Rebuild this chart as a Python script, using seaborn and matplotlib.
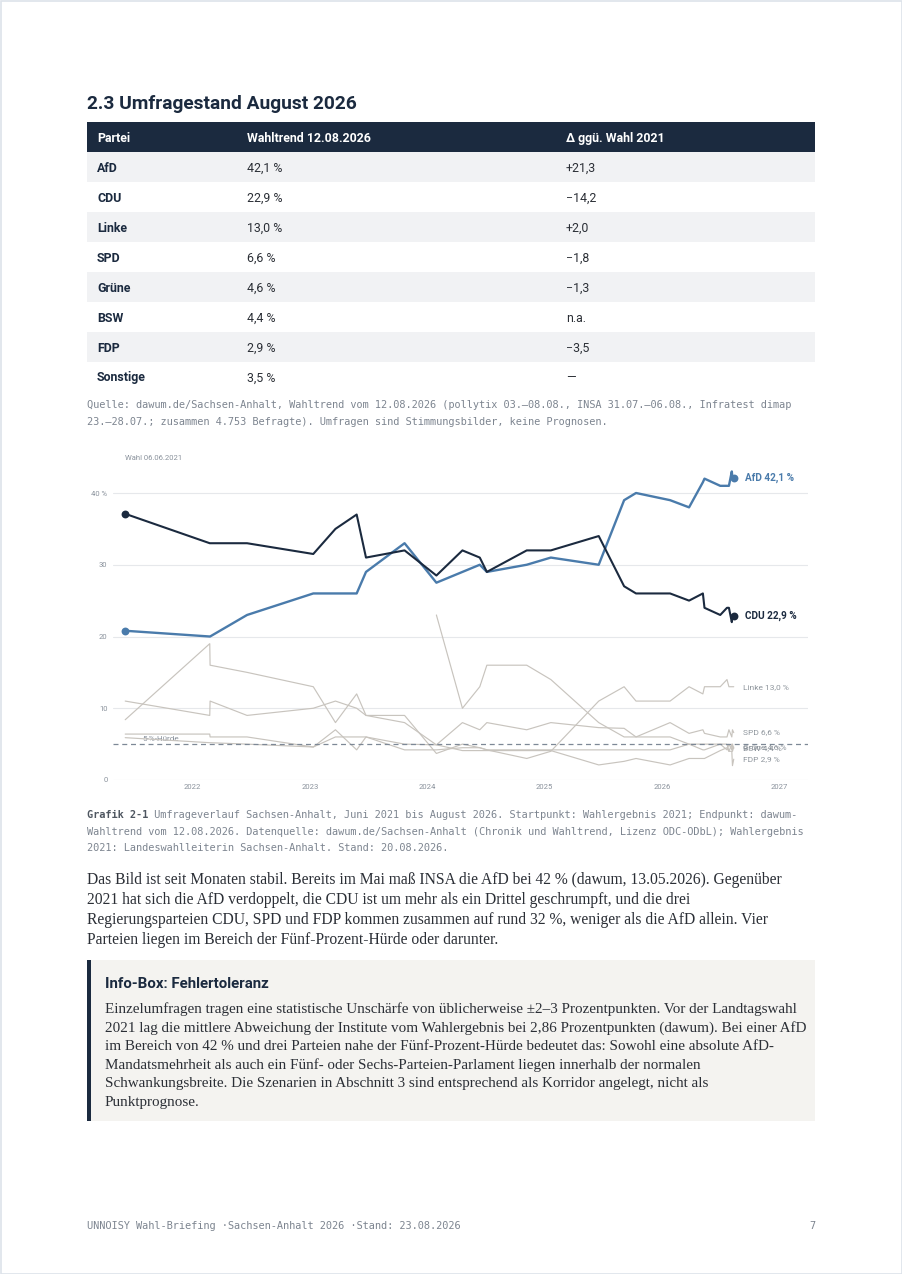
import matplotlib
matplotlib.use("Agg")
import matplotlib.pyplot as plt
import matplotlib.patches as mpatches
import numpy as np
import pandas as pd
import seaborn as sns

# ---------------- data ----------------
table_parties = ["AfD", "CDU", "Linke", "SPD", "Grüne", "BSW", "FDP", "Sonstige"]
table_trend = [42.1, 22.9, 13.0, 6.6, 4.6, 4.4, 2.9, 3.5]
table_delta = ["+21,3", "\u221214,2", "+2,0", "\u22121,8", "\u22121,3", "n.a.", "\u22123,5", "\u2014"]
table_header = ["Partei", "Wahltrend 12.08.2026", "\u0394 ggü. Wahl 2021"]

poll_dates = ["2021-06-06", "2022-02-24", "2022-02-25", "2022-06-20", "2023-01-12",
              "2023-03-22", "2023-05-27", "2023-06-25", "2023-10-23", "2024-01-30",
              "2024-04-20", "2024-06-13", "2024-07-05", "2024-11-06", "2025-01-20",
              "2025-06-18", "2025-09-05", "2025-10-12", "2026-01-26", "2026-03-26",
              "2026-05-08", "2026-05-13", "2026-07-01", "2026-07-22", "2026-07-28",
              "2026-08-06", "2026-08-08", "2026-08-12"]
afd = [20.8, 20, 20, 23, 26, 26, 26, 29, 33, 27.5, 29, 30, 29, 30, 31, 30, 39, 40,
       39, 38, 41.5, 42, 41, 41, 41, 43, 42, 42.1]
cdu = [37.1, 33, 33, 33, 31.5, 35, 37, 31, 32, 28.5, 32, 31, 29, 32, 32, 34, 27, 26,
       26, 25, 26, 24, 23, 24, 24, 22, 23, 22.9]
linke = [11.0, 9, 11, 9, 10, 11, 10, 9, 9, 3.7, 5, 4.5, 4.2, 3, 4, 11, 13, 11,
         11, 13, 12, 13, 13, 14, 13, 13, 13, 13.0]
spd = [8.4, 19, 16, 15, 13, 8, 12, 9, 8, 4.9, 8, 7, 8, 7, 8, 7.3, 7.2, 6,
       8, 6.5, 7, 6.5, 6, 6, 7, 6, 7, 6.6]
gruene = [5.9, 5.2, 5.2, 5.0, 4.6, 6.0, 6.0, 6.0, 4.2, 4.2, 4.5, 4.5, 4.2, 4.2, 4.2,
          4.2, 4.2, 4.2, 4.2, 5.0, 5.0, 5.0, 5.0, 5.0, 4.0, 5.0, 4.0, 4.6]
bsw = [np.nan] * 9 + [23, 10, 13, 16, 16, 14, 8, 6, 6, 6, 5, 4.2, 4.2, 5, 4.2, 5,
                      4.2, 5, 4.4]
fdp = [6.4, 6.4, 6.0, 6.0, 4.6, 7.0, 4.2, 6.0, 5.0, 4.9, 4.1, 4.1, 4.1, 4.1, 4.1,
       2.1, 2.6, 3.0, 2.1, 3.0, 3.0, 3.0, 4.1, 4.5, 4.0, 4.0, 2.0, 2.9]
year_ticks = [2022, 2023, 2024, 2025, 2026, 2027]
y_ticks = [0, 10, 20, 30, 40]
threshold = 5

series = {"AfD": afd, "CDU": cdu, "Linke": linke, "SPD": spd,
          "Grüne": gruene, "BSW": bsw, "FDP": fdp}

# ---------------- styling ----------------
NAVY = "#1b2a3f"
BLUE = "#4a7bab"
LGRAY = "#c8c4be"
TXT = "#2b2f36"
MUTED = "#7d8590"
SANS = ["Roboto", "DejaVu Sans"]
SERIF = ["Liberation Serif", "DejaVu Serif"]
MONO = ["DejaVu Sans Mono"]

sns.set_style("white")
plt.rcParams["font.family"] = ["Roboto", "DejaVu Sans"]

W, H = 902, 1274
fig = plt.figure(figsize=(W / 100, H / 100), dpi=100)
fig.patch.set_facecolor("white")
renderer = fig.canvas.get_renderer()

page = fig.add_axes([0, 0, 1, 1], zorder=0)
page.set_xlim(0, W)
page.set_ylim(H, 0)
page.axis("off")


def width_px(s, size, family, weight="normal"):
    t = page.text(0, 0, s, fontsize=size, family=family, weight=weight)
    w = t.get_window_extent(renderer).width
    t.remove()
    return w


def fit(s, target, family, weight="normal"):
    return 10 * target / width_px(s, 10, family, weight)


def put(x, y, s, size, family, weight="normal", color=TXT, ha="left"):
    page.text(x, y, s, fontsize=size, family=family, weight=weight, color=color,
              ha=ha, va="center_baseline")

# page border
page.add_patch(mpatches.Rectangle((0.5, 0.5), W - 1, H - 1, fill=False,
                                  edgecolor="#dde3ea", lw=1.2))

# title
title = "2.3 Umfragestand August 2026"
put(87, 102, title, fit(title, 271, SANS, "bold"), SANS, "bold", NAVY)

# table
col_x = [97, 247, 566]
hsize = fit(table_header[1], 124, SANS, "bold")
page.add_patch(mpatches.Rectangle((87, 122), 728, 30, color=NAVY, lw=0))
for cx, h in zip(col_x, table_header):
    put(cx, 137, h, hsize, SANS, "bold", "white")
for i, (p, v, d) in enumerate(zip(table_parties, table_trend, table_delta)):
    top = 152 + 30 * i
    if i % 2 == 0:
        page.add_patch(mpatches.Rectangle((87, top), 728, 30, color="#f1f2f4", lw=0))
    yb = top + 14.5
    put(col_x[0], yb, p, hsize, SANS, "bold", NAVY)
    put(col_x[1], yb, f"{v:.1f}".replace(".", ",") + " %", hsize, SANS, "normal", TXT)
    put(col_x[2], yb, d, hsize, SANS, "normal", TXT)

# source lines (mono)
src = ["Quelle: dawum.de/Sachsen-Anhalt, Wahltrend vom 12.08.2026 (pollytix 03.\u201308.08., INSA 31.07.\u201306.08., Infratest dimap",
       "23.\u201328.07.; zusammen 4.753 Befragte). Umfragen sind Stimmungsbilder, keine Prognosen."]
msize = fit(src[0], 710, MONO)
for k, s in enumerate(src):
    put(87, 404 + 17 * k, s, msize, MONO, "normal", MUTED)

# caption
cap_bold = "Grafik 2-1"
cap = [" Umfrageverlauf Sachsen-Anhalt, Juni 2021 bis August 2026. Startpunkt: Wahlergebnis 2021; Endpunkt: dawum-",
       "Wahltrend vom 12.08.2026. Datenquelle: dawum.de/Sachsen-Anhalt (Chronik und Wahltrend, Lizenz ODC-ODbL); Wahlergebnis",
       "2021: Landeswahlleiterin Sachsen-Anhalt. Stand: 20.08.2026."]
put(87, 814, cap_bold, msize, MONO, "bold", "#4e5660")
bw = width_px(cap_bold, msize, MONO, "bold")
put(87 + bw, 814, cap[0], msize, MONO, "normal", MUTED)
put(87, 831, cap[1], msize, MONO, "normal", MUTED)
put(87, 847, cap[2], msize, MONO, "normal", MUTED)

# body paragraph
body = ["Das Bild ist seit Monaten stabil. Bereits im Mai maß INSA die AfD bei 42 % (dawum, 13.05.2026). Gegenüber",
        "2021 hat sich die AfD verdoppelt, die CDU ist um mehr als ein Drittel geschrumpft, und die drei",
        "Regierungsparteien CDU, SPD und FDP kommen zusammen auf rund 32 %, weniger als die AfD allein. Vier",
        "Parteien liegen im Bereich der Fünf-Prozent-Hürde oder darunter."]
bsize = fit(body[0], 696, SERIF)
for k, s in enumerate(body):
    put(87, 878 + 20 * k, s, bsize, SERIF, "normal", TXT)

# info box
page.add_patch(mpatches.Rectangle((87, 960), 728, 161, color="#f4f3f0", lw=0))
page.add_patch(mpatches.Rectangle((87, 960), 4, 161, color=NAVY, lw=0))
ibt = "Info-Box: Fehlertoleranz"
put(105, 982, ibt, fit(ibt, 164, SANS, "bold"), SANS, "bold", NAVY)
info = ["Einzelumfragen tragen eine statistische Unschärfe von üblicherweise \u00b12\u20133 Prozentpunkten. Vor der Landtagswahl",
        "2021 lag die mittlere Abweichung der Institute vom Wahlergebnis bei 2,86 Prozentpunkten (dawum). Bei einer AfD",
        "im Bereich von 42 % und drei Parteien nahe der Fünf-Prozent-Hürde bedeutet das: Sowohl eine absolute AfD-",
        "Mandatsmehrheit als auch ein Fünf- oder Sechs-Parteien-Parlament liegen innerhalb der normalen",
        "Schwankungsbreite. Die Szenarien in Abschnitt 3 sind entsprechend als Korridor angelegt, nicht als",
        "Punktprognose."]
isize = fit(info[0], 692, SERIF)
for k, s in enumerate(info):
    put(105, 1007.5 + 18.7 * k, s, isize, SERIF, "normal", TXT)

# footer
foot = "UNNOISY Wahl-Briefing \u00b7Sachsen-Anhalt 2026 \u00b7Stand: 23.08.2026"
put(87, 1225, foot, msize, MONO, "normal", MUTED)
put(815, 1225, "7", msize, MONO, "normal", MUTED, ha="right")

# ---------------- chart ----------------
PX_PER_UNIT = 7.175
ax = fig.add_axes([113 / W, (H - 780) / H, 695 / W, 45 * PX_PER_UNIT / H], zorder=2)
ax.patch.set_alpha(0)

rows = []
for party, vals in series.items():
    for d, v in zip(poll_dates, vals):
        rows.append({"party": party, "date": pd.Timestamp(d), "value": v})
df = pd.DataFrame(rows).dropna()

styles = {"AfD": (BLUE, 1.7, 4), "CDU": (NAVY, 1.5, 5)}
for party in ["Linke", "SPD", "Grüne", "BSW", "FDP", "AfD", "CDU"]:
    col, lw, z = styles.get(party, (LGRAY, 0.85, 2))
    sub = df[df.party == party]
    sns.lineplot(data=sub, x="date", y="value", color=col, linewidth=lw,
                 estimator=None, ax=ax, zorder=z, clip_on=False)

ends = df.groupby("party").tail(1).set_index("party")
starts = df.groupby("party").head(1).set_index("party")
for party, col in [("AfD", BLUE), ("CDU", NAVY)]:
    pts = pd.DataFrame({"date": [starts.loc[party, "date"], ends.loc[party, "date"]],
                        "value": [starts.loc[party, "value"], ends.loc[party, "value"]]})
    sns.scatterplot(data=pts, x="date", y="value", color=col, s=32, linewidth=0,
                    ax=ax, zorder=6, clip_on=False)

ax.axhline(threshold, color="#7d8896", lw=0.9, ls=(0, (4, 3)), zorder=3)

ax.set_ylim(0, 45)
ax.set_xlim(pd.Timestamp("2021-04-29"), pd.Timestamp("2027-03-31"))
ax.set_yticks(y_ticks)
ax.set_yticklabels([f"{t} %" if t == 40 else str(t) for t in y_ticks])
ax.set_xticks([pd.Timestamp(f"{y}-01-01") for y in year_ticks])
ax.set_xticklabels([str(y) for y in year_ticks])
ax.grid(axis="y", color="#e6e8eb", lw=0.8, zorder=0)
ax.set_axisbelow(True)
for sp in ax.spines.values():
    sp.set_visible(False)
tsize = fit("2022", 17, SANS)
ax.tick_params(axis="both", length=0, labelsize=tsize, labelcolor="#8a929c")
ax.tick_params(axis="y", pad=4)
ax.tick_params(axis="x", pad=3)
ax.set_xlabel("")
ax.set_ylabel("")

ax.annotate("Wahl 06.06.2021", xy=(pd.Timestamp(poll_dates[0]), 44.9),
            fontsize=fit("Wahl 06.06.2021", 57, SANS), color="#8a929c",
            ha="left", va="center", annotation_clip=False)
ax.annotate("5-%-Hürde", xy=(pd.Timestamp("2021-07-30"), threshold), xytext=(0, 1.5),
            textcoords="offset points", fontsize=fit("5-%-Hürde", 37, SANS),
            color="#8a929c", ha="left", va="bottom", zorder=1)

lab_big = fit("CDU 22,9 %", 52, SANS, "bold")
lab_small = fit("Linke 13,0 %", 46, SANS)
for party, col in [("AfD", BLUE), ("CDU", NAVY)]:
    v = ends.loc[party, "value"]
    ax.annotate(f"{party} {v:.1f} %".replace(".", ","), xy=(ends.loc[party, "date"], v),
                xytext=(8.4, 0), textcoords="offset points", fontsize=lab_big,
                fontweight="bold", color=col, va="center", ha="left",
                annotation_clip=False)
for party in ["Linke", "SPD", "Grüne", "BSW", "FDP"]:
    v = ends.loc[party, "value"]
    ax.annotate(f"{party} {v:.1f} %".replace(".", ","), xy=(ends.loc[party, "date"], v),
                xytext=(7, 0), textcoords="offset points", fontsize=lab_small,
                color="#8e959c", va="center", ha="left", annotation_clip=False)

fig.savefig("out.png", dpi=100, facecolor="white")
